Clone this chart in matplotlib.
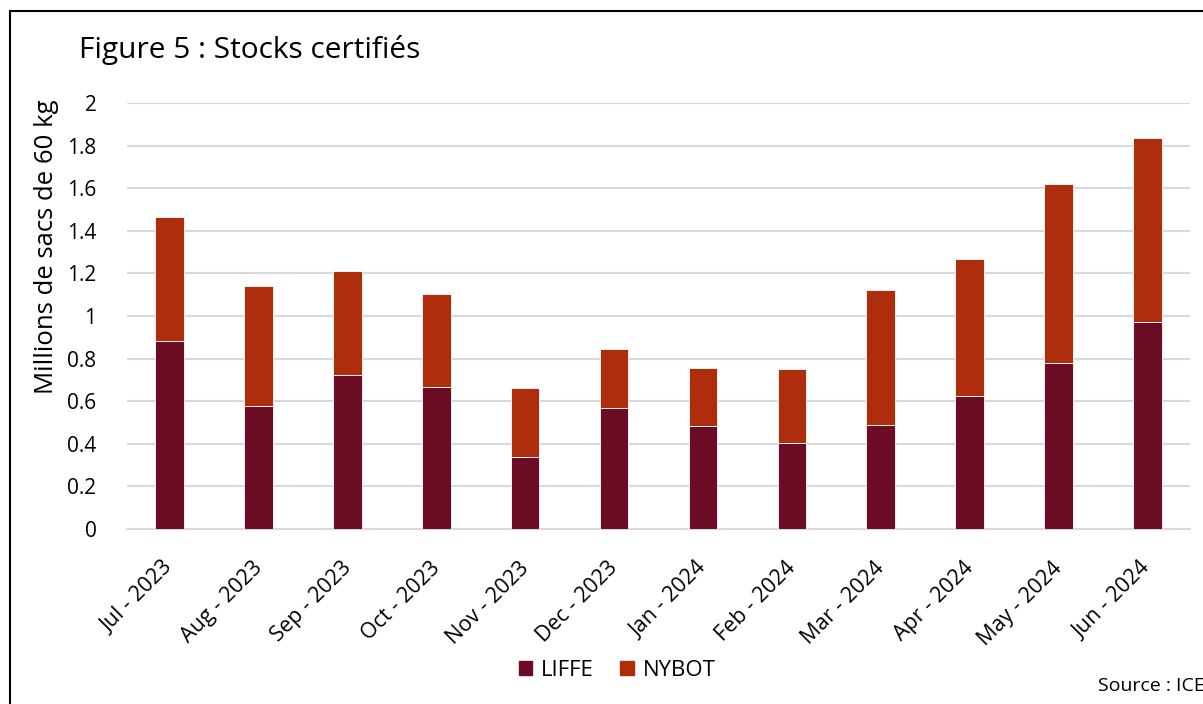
import matplotlib
matplotlib.use("Agg")
import matplotlib.pyplot as plt
from matplotlib.patches import Rectangle, Patch
from matplotlib.transforms import ScaledTranslation

plt.rcParams['font.family'] = ['Open Sans', 'DejaVu Sans']

months = ["Jul - 2023", "Aug - 2023", "Sep - 2023", "Oct - 2023", "Nov - 2023", "Dec - 2023",
          "Jan - 2024", "Feb - 2024", "Mar - 2024", "Apr - 2024", "May - 2024", "Jun - 2024"]
liffe = [0.883, 0.577, 0.723, 0.667, 0.338, 0.568, 0.484, 0.404, 0.488, 0.624, 0.779, 0.972]
total = [1.465, 1.141, 1.211, 1.103, 0.662, 0.845, 0.756, 0.751, 1.122, 1.268, 1.620, 1.836]
nybot = [t - l for t, l in zip(total, liffe)]
yticks = [0, 0.2, 0.4, 0.6, 0.8, 1, 1.2, 1.4, 1.6, 1.8, 2]
ytick_labels = ["0", "0.2", "0.4", "0.6", "0.8", "1", "1.2", "1.4", "1.6", "1.8", "2"]

c_liffe = "#6B0C24"
c_nybot = "#AE2D0C"

W, H = 1203, 704
fig = plt.figure(figsize=(W / 100, H / 100), dpi=100)
ax = fig.add_axes([127 / W, 1 - 529 / H, (1190 - 127) / W, (529 - 103) / H])

x = list(range(len(months)))
ax.bar(x, liffe, width=0.32, color=c_liffe, edgecolor="white", linewidth=0.6, zorder=3, label="LIFFE")
ax.bar(x, nybot, bottom=liffe, width=0.32, color=c_nybot, edgecolor="white", linewidth=0.6, zorder=3, label="NYBOT")

ax.set_xlim(-0.48, len(months) - 0.52)
ax.set_ylim(0, 2)
ax.set_yticks(yticks)
ax.set_yticklabels(ytick_labels, fontsize=15)
ax.yaxis.grid(True, color="#d9d9d9", linewidth=1.5, zorder=0)
ax.set_axisbelow(True)
for s in ["top", "right", "left"]:
    ax.spines[s].set_visible(False)
ax.spines["bottom"].set_color("#d9d9d9")
ax.spines["bottom"].set_linewidth(1.5)
ax.tick_params(axis="both", length=0)
ax.tick_params(axis="y", pad=22)
ax.set_xticks(x)
ax.set_xticklabels(months, rotation=45, ha="right", rotation_mode="anchor", fontsize=15.5)
ax.tick_params(axis="x", pad=22)
offset = ScaledTranslation(-7 / 100, 2 / 100, fig.dpi_scale_trans)
for lbl in ax.get_xticklabels():
    lbl.set_transform(lbl.get_transform() + offset)

fig.text(79 / W, 1 - 50 / H, "Figure 5 : Stocks certifiés", fontsize=21.5, va="center", ha="left")
fig.text(47 / W, 1 - 247 / H, "Millions de sacs de 60 kg", fontsize=18.5, rotation=90, va="center", ha="center")
fig.text(1098 / W, 1 - 686 / H, "Source : ICE", fontsize=14, va="center", ha="left")

handles = [Patch(color=c_liffe, label="LIFFE"), Patch(color=c_nybot, label="NYBOT")]
fig.legend(handles=handles, loc="center", bbox_to_anchor=(617 / W, 1 - 670 / H), ncol=2, frameon=False,
           fontsize=16, handlelength=0.6, handleheight=0.6, handletextpad=0.4, columnspacing=1.2)

border = Rectangle((10 / W, -0.1), 1.2, 1 - 11 / H + 0.1, transform=fig.transFigure, fill=False,
                   edgecolor="black", linewidth=1.5)
fig.patches.append(border)

fig.savefig("out.png", dpi=100)
